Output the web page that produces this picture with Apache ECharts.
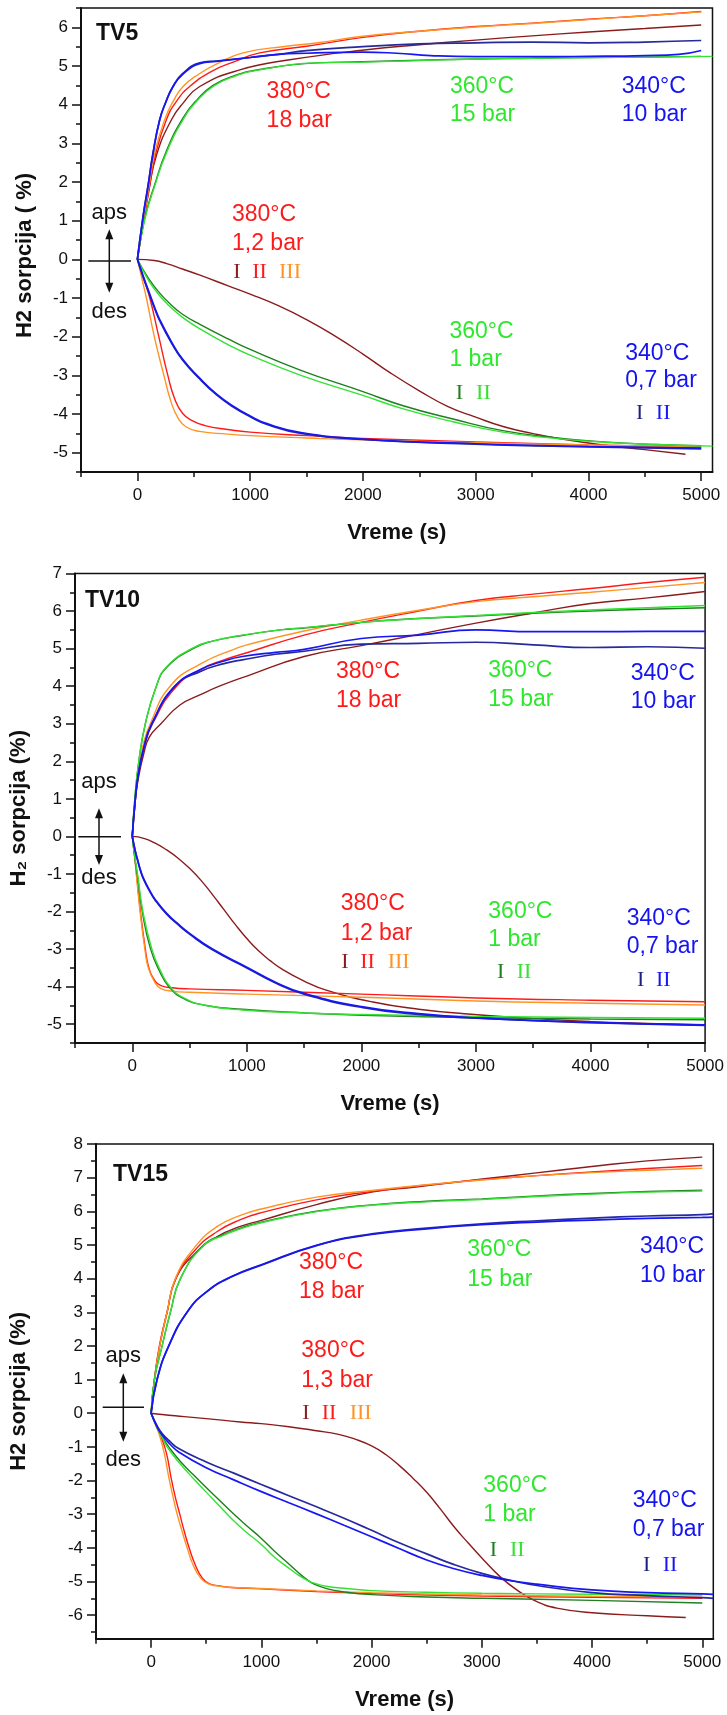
<!DOCTYPE html>
<html><head><meta charset="utf-8">
<script src="https://cdn.jsdelivr.net/npm/echarts@6/dist/echarts.min.js"></script>
<style>html,body{margin:0;padding:0;background:#fff}#c{width:727px;height:1715px}</style>
</head><body><div id="c"></div>
<script>
// ---------------- tick labels ----------------
const xMajorTicks = [0, 1000, 2000, 3000, 4000, 5000];
const xMinorTicks = [-500, 500, 1500, 2500, 3500, 4500];
const yMajorTicksTV5 = [-5, -4, -3, -2, -1, 0, 1, 2, 3, 4, 5, 6];
const yMinorTicksTV5 = [-5.5, -4.5, -3.5, -2.5, -1.5, -0.5, 0.5, 1.5, 2.5, 3.5, 4.5, 5.5, 6.5];
const yMajorTicksTV10 = [-5, -4, -3, -2, -1, 0, 1, 2, 3, 4, 5, 6, 7];
const yMinorTicksTV10 = [-5.5, -4.5, -3.5, -2.5, -1.5, -0.5, 0.5, 1.5, 2.5, 3.5, 4.5, 5.5, 6.5];
const yMajorTicksTV15 = [-6, -5, -4, -3, -2, -1, 0, 1, 2, 3, 4, 5, 6, 7, 8];
const yMinorTicksTV15 = [-6.5, -5.5, -4.5, -3.5, -2.5, -1.5, -0.5, 0.5, 1.5, 2.5, 3.5, 4.5, 5.5, 6.5, 7.5];

// ---------------- categories ----------------
const panelNames = ['TV5', 'TV10', 'TV15'];
const runNames = ['380 I', '380 II', '380 III', '360 I', '360 II', '340 I', '340 II'];

// ---------------- TV5 : absorption (aps) [time s, sorption %] ----------------
const tv5_aps_380_I   = [[0,0],[50,0.9],[100,1.75],[170,2.7],[302,3.61],[405,4.04],[553,4.47],[908,4.9],[1351,5.16],[2032,5.42],[2500,5.55],[3000,5.67],[3500,5.78],[4000,5.88],[4500,5.97],[5000,6.06]];
const tv5_aps_380_II  = [[0,0],[50,0.9],[100,1.75],[160,2.7],[257,3.61],[350,4.1],[464,4.47],[650,4.85],[850,5.1],[1085,5.34],[1500,5.51],[2000,5.74],[2500,5.9],[3000,6.02],[3500,6.11],[4000,6.21],[4500,6.3],[5000,6.41]];
const tv5_aps_380_III = [[0,0],[50,0.95],[100,1.85],[153,2.75],[242,3.61],[320,4.1],[405,4.47],[550,4.8],[700,5.05],[937,5.34],[1322,5.51],[1600,5.6],[2000,5.77],[2500,5.9],[3000,6.01],[3500,6.1],[4000,6.2],[4500,6.3],[5000,6.4]];
const tv5_aps_360_I   = [[0,0],[65,1.06],[153,1.93],[257,2.8],[405,3.66],[530,4.13],[671,4.5],[850,4.74],[1085,4.91],[1588,5.08],[2000,5.11],[2500,5.15],[3000,5.18],[3500,5.2],[4000,5.22],[4500,5.23],[5000,5.25]];
const tv5_aps_360_II  = [[0,0],[65,1.03],[153,1.89],[257,2.75],[405,3.61],[530,4.1],[671,4.47],[850,4.72],[1085,4.9],[1588,5.08],[2000,5.1],[2500,5.14],[3000,5.18],[3500,5.2],[4000,5.22],[4500,5.23],[5100,5.25]];
const tv5_aps_340_I   = [[0,0],[50,1.1],[94,1.89],[139,2.75],[198,3.61],[250,4.05],[316,4.47],[400,4.8],[553,5.08],[700,5.13],[1000,5.22],[1250,5.3],[1500,5.4],[2000,5.5],[2500,5.57],[3000,5.6],[3500,5.62],[4000,5.6],[4500,5.62],[5000,5.66]];
const tv5_aps_340_II  = [[0,0],[50,1.1],[94,1.89],[139,2.75],[198,3.61],[250,4.05],[316,4.47],[400,4.78],[553,5.06],[700,5.12],[1000,5.22],[1250,5.3],[1500,5.33],[2000,5.36],[2300,5.33],[2600,5.27],[3000,5.24],[3500,5.24],[4000,5.25],[4500,5.27],[4800,5.3],[5000,5.4]];
// ---------------- TV5 : desorption (des) ----------------
const tv5_des_380_I   = [[0,0],[150,-0.03],[260,-0.11],[400,-0.25],[555,-0.41],[800,-0.68],[1000,-0.9],[1250,-1.2],[1500,-1.56],[1750,-1.98],[2000,-2.45],[2250,-2.95],[2500,-3.4],[2750,-3.8],[3000,-4.08],[3250,-4.33],[3500,-4.5],[3750,-4.64],[4130,-4.8],[4500,-4.92],[4860,-5.04]];
const tv5_des_380_II  = [[0,0],[50,-0.45],[110,-1.0],[190,-2.0],[270,-3.0],[330,-3.6],[400,-3.98],[485,-4.17],[600,-4.3],[800,-4.4],[1000,-4.47],[1500,-4.56],[2000,-4.63],[3000,-4.72],[4000,-4.8],[5000,-4.86]];
const tv5_des_380_III = [[0,0],[40,-0.5],[80,-1.0],[150,-2.0],[235,-3.0],[300,-3.7],[360,-4.1],[430,-4.33],[550,-4.45],[800,-4.52],[1000,-4.56],[1500,-4.62],[2000,-4.67],[3000,-4.74],[4000,-4.8],[5000,-4.85]];
const tv5_des_360_I   = [[0,0],[100,-0.5],[200,-0.88],[300,-1.18],[400,-1.42],[555,-1.68],[800,-2.05],[1000,-2.33],[1450,-2.87],[2000,-3.42],[2350,-3.78],[2800,-4.13],[3240,-4.43],[3700,-4.61],[4130,-4.72],[4600,-4.79],[5000,-4.82]];
const tv5_des_360_II  = [[0,0],[100,-0.55],[200,-0.95],[300,-1.25],[400,-1.5],[555,-1.8],[800,-2.2],[1000,-2.48],[1450,-3.0],[2000,-3.52],[2350,-3.86],[2800,-4.2],[3240,-4.47],[3700,-4.63],[4130,-4.73],[4600,-4.79],[5100,-4.83]];
const tv5_des_340_I   = [[0,0],[50,-0.45],[100,-0.85],[150,-1.25],[200,-1.6],[300,-2.15],[400,-2.6],[555,-3.1],[700,-3.5],[850,-3.82],[1000,-4.07],[1150,-4.27],[1450,-4.5],[2000,-4.66],[3000,-4.78],[4000,-4.85],[5000,-4.9]];
const tv5_des_340_II  = [[0,0],[50,-0.42],[100,-0.82],[150,-1.22],[200,-1.57],[300,-2.12],[400,-2.58],[555,-3.08],[700,-3.48],[850,-3.8],[1000,-4.05],[1150,-4.25],[1450,-4.48],[2000,-4.65],[3000,-4.77],[4000,-4.84],[5000,-4.88]];

// ---------------- TV10 : absorption ----------------
const tv10_aps_380_I   = [[0,0],[25,0.9],[50,1.5],[100,2.2],[150,2.65],[250,3.0],[416,3.5],[600,3.78],[760,4.0],[1000,4.27],[1500,4.79],[2000,5.08],[2500,5.38],[3000,5.68],[3500,5.95],[4000,6.2],[4500,6.35],[5000,6.52]];
const tv10_aps_380_II  = [[0,0],[25,0.95],[50,1.6],[100,2.35],[177,3.0],[387,4.0],[600,4.45],[800,4.7],[1000,4.89],[1500,5.36],[2000,5.7],[2500,6.0],[3000,6.28],[3500,6.45],[4000,6.6],[4500,6.76],[5000,6.9]];
const tv10_aps_380_III = [[0,0],[25,1.0],[50,1.7],[100,2.5],[157,3.0],[330,4.0],[600,4.6],[903,5.0],[1000,5.1],[1500,5.47],[2000,5.76],[2500,6.02],[3000,6.25],[3500,6.38],[4000,6.5],[4500,6.63],[5000,6.76]];
const tv10_aps_360_I   = [[0,0],[22,1.0],[57,2.0],[114,3.0],[210,4.0],[300,4.5],[530,5.0],[700,5.2],[960,5.35],[1290,5.5],[1500,5.55],[2000,5.7],[2500,5.8],[3000,5.87],[3500,5.94],[4000,6.0],[4500,6.05],[5000,6.09]];
const tv10_aps_360_II  = [[0,0],[22,1.0],[57,2.0],[114,3.0],[210,4.0],[300,4.52],[530,5.02],[700,5.2],[960,5.36],[1290,5.5],[1500,5.56],[2000,5.7],[2500,5.8],[3000,5.88],[3500,5.96],[4000,6.03],[4500,6.09],[5000,6.15]];
const tv10_aps_340_I   = [[0,0],[25,0.95],[50,1.6],[100,2.35],[171,3.0],[372,4.0],[600,4.4],[800,4.6],[960,4.7],[1250,4.85],[1500,4.93],[2000,5.12],[2500,5.14],[3000,5.17],[3500,5.1],[4000,5.03],[4500,5.05],[5000,5.01]];
const tv10_aps_340_II  = [[0,0],[25,0.95],[50,1.6],[100,2.35],[171,3.0],[372,4.0],[600,4.45],[800,4.67],[960,4.79],[1250,4.9],[1500,4.98],[2000,5.27],[2500,5.36],[3000,5.5],[3500,5.45],[4000,5.45],[4500,5.46],[5000,5.46]];
// ---------------- TV10 : desorption ----------------
const tv10_des_380_I   = [[0,0],[100,-0.05],[200,-0.18],[300,-0.36],[400,-0.58],[500,-0.85],[600,-1.17],[700,-1.55],[800,-1.95],[900,-2.35],[1000,-2.72],[1100,-3.04],[1200,-3.3],[1300,-3.52],[1500,-3.85],[1700,-4.1],[2100,-4.41],[2500,-4.6],[2900,-4.72],[3500,-4.85],[4000,-4.93],[4500,-4.98],[5000,-5.02]];
const tv10_des_380_II  = [[0,0],[20,-0.5],[37,-1.0],[71,-2.0],[114,-3.0],[145,-3.5],[200,-3.85],[250,-3.97],[350,-4.03],[500,-4.06],[1000,-4.1],[2000,-4.2],[3000,-4.3],[4000,-4.36],[5000,-4.4]];
const tv10_des_380_III = [[0,0],[20,-0.5],[35,-1.0],[68,-2.0],[110,-3.0],[140,-3.5],[200,-3.9],[250,-4.05],[350,-4.12],[500,-4.15],[1000,-4.2],[2000,-4.28],[3000,-4.38],[4000,-4.44],[5000,-4.49]];
const tv10_des_360_I   = [[0,0],[25,-0.65],[45,-1.05],[90,-2.05],[160,-3.0],[240,-3.6],[320,-4.0],[450,-4.32],[645,-4.5],[960,-4.6],[1500,-4.7],[2000,-4.76],[3000,-4.82],[4000,-4.86],[5000,-4.88]];
const tv10_des_360_II  = [[0,0],[25,-0.6],[46,-1.0],[93,-2.0],[171,-3.0],[250,-3.6],[330,-4.0],[450,-4.3],[645,-4.5],[960,-4.62],[1500,-4.7],[2000,-4.74],[3000,-4.79],[4000,-4.82],[5000,-4.84]];
const tv10_des_340_I   = [[0,0],[25,-0.38],[50,-0.68],[75,-0.95],[100,-1.15],[150,-1.45],[200,-1.7],[300,-2.07],[400,-2.35],[500,-2.6],[700,-3.02],[1000,-3.5],[1250,-3.9],[1500,-4.2],[2000,-4.55],[2500,-4.74],[3000,-4.84],[4000,-4.96],[5000,-5.03]];
const tv10_des_340_II  = [[0,0],[25,-0.37],[50,-0.66],[75,-0.93],[100,-1.13],[150,-1.43],[200,-1.68],[300,-2.05],[400,-2.33],[500,-2.58],[700,-3.0],[1000,-3.48],[1250,-3.88],[1500,-4.18],[2000,-4.53],[2500,-4.72],[3000,-4.83],[4000,-4.95],[5000,-5.02]];

// ---------------- TV15 : absorption ----------------
const tv15_aps_380_I   = [[0,0],[30,1.0],[78,2.0],[145,3.0],[225,4.0],[400,4.75],[600,5.25],[810,5.55],[1000,5.73],[1500,6.2],[2000,6.57],[2400,6.72],[2800,6.88],[3250,7.05],[3700,7.22],[4100,7.37],[4500,7.5],[5000,7.61]];
const tv15_aps_380_II  = [[0,0],[30,1.0],[75,2.0],[145,3.0],[222,4.0],[400,4.85],[600,5.4],[810,5.75],[1000,5.96],[1500,6.34],[2000,6.59],[2500,6.78],[3000,6.94],[3500,7.06],[4000,7.17],[4500,7.27],[5000,7.36]];
const tv15_aps_380_III = [[0,0],[30,1.0],[78,2.0],[145,3.0],[220,4.0],[400,4.95],[600,5.55],[810,5.88],[1000,6.07],[1500,6.42],[2000,6.62],[2500,6.79],[3000,6.93],[3500,7.06],[4000,7.15],[4500,7.22],[5000,7.28]];
const tv15_aps_360_I   = [[0,0],[30,1.0],[100,2.0],[175,3.0],[266,4.0],[477,5.0],[650,5.3],[810,5.5],[1000,5.68],[1500,6.0],[2000,6.19],[2500,6.3],[3000,6.37],[3500,6.46],[4000,6.53],[4500,6.59],[5000,6.63]];
const tv15_aps_360_II  = [[0,0],[30,1.0],[100,2.0],[175,3.0],[266,4.0],[477,4.98],[650,5.28],[810,5.48],[1000,5.66],[1500,5.99],[2000,6.18],[2500,6.28],[3000,6.35],[3500,6.44],[4000,6.51],[4500,6.57],[5000,6.6]];
const tv15_aps_340_I   = [[0,0],[54,1.0],[160,2.0],[326,3.0],[500,3.6],[735,4.07],[1000,4.41],[1500,4.99],[2000,5.33],[2500,5.5],[3000,5.63],[3500,5.72],[4000,5.8],[4500,5.86],[5000,5.9],[5100,5.93]];
const tv15_aps_340_II  = [[0,0],[54,1.0],[160,2.0],[326,3.0],[500,3.6],[735,4.06],[1000,4.4],[1500,4.98],[2000,5.31],[2500,5.48],[3000,5.6],[3500,5.68],[4000,5.74],[4500,5.79],[5000,5.82],[5100,5.83]];
// ---------------- TV15 : desorption ----------------
const tv15_des_380_I   = [[0,0],[100,-0.04],[300,-0.1],[500,-0.16],[810,-0.26],[1000,-0.31],[1250,-0.4],[1500,-0.52],[1700,-0.63],[1850,-0.77],[2000,-0.97],[2125,-1.22],[2250,-1.55],[2375,-1.93],[2500,-2.35],[2625,-2.85],[2750,-3.38],[2875,-3.85],[3000,-4.3],[3170,-4.87],[3340,-5.3],[3500,-5.6],[3680,-5.79],[4000,-5.93],[4500,-6.02],[4850,-6.07]];
const tv15_des_380_II  = [[0,0],[40,-0.3],[90,-0.7],[140,-1.2],[180,-1.9],[220,-2.5],[260,-3.0],[300,-3.5],[345,-4.0],[400,-4.5],[465,-4.9],[530,-5.07],[620,-5.13],[700,-5.17],[1000,-5.22],[1500,-5.3],[2000,-5.36],[3000,-5.43],[4000,-5.47],[5000,-5.5]];
const tv15_des_380_III = [[0,0],[40,-0.35],[80,-0.7],[120,-1.2],[160,-1.9],[200,-2.5],[236,-3.0],[280,-3.5],[327,-4.0],[380,-4.5],[450,-4.9],[520,-5.07],[600,-5.13],[700,-5.17],[1000,-5.21],[1500,-5.28],[2000,-5.33],[3000,-5.4],[4000,-5.44],[5000,-5.47]];
const tv15_des_360_I   = [[0,0],[50,-0.38],[100,-0.7],[160,-1.0],[270,-1.45],[400,-1.88],[560,-2.4],[735,-2.95],[870,-3.35],[1000,-3.72],[1120,-4.1],[1240,-4.45],[1340,-4.75],[1408,-4.93],[1480,-5.08],[1600,-5.22],[1750,-5.31],[2000,-5.39],[2500,-5.46],[3000,-5.5],[4000,-5.56],[5000,-5.64]];
const tv15_des_360_II  = [[0,0],[50,-0.4],[100,-0.72],[145,-1.0],[250,-1.45],[400,-2.0],[560,-2.55],[735,-3.15],[870,-3.55],[1000,-3.9],[1120,-4.28],[1240,-4.58],[1340,-4.82],[1408,-4.95],[1480,-5.05],[1600,-5.15],[1750,-5.2],[2000,-5.27],[2500,-5.32],[3000,-5.35],[4000,-5.38],[5000,-5.4]];
const tv15_des_340_I   = [[0,0],[50,-0.35],[100,-0.6],[175,-0.85],[250,-1.05],[500,-1.45],[750,-1.78],[1000,-2.12],[1250,-2.45],[1500,-2.78],[1750,-3.12],[2000,-3.48],[2250,-3.85],[2500,-4.18],[2750,-4.5],[3000,-4.76],[3250,-4.96],[3500,-5.12],[4000,-5.33],[4500,-5.42],[5000,-5.48],[5100,-5.5]];
const tv15_des_340_II  = [[0,0],[50,-0.38],[100,-0.65],[175,-0.93],[250,-1.15],[500,-1.62],[750,-1.98],[1000,-2.33],[1250,-2.66],[1500,-2.99],[1750,-3.33],[2000,-3.67],[2250,-4.02],[2500,-4.36],[2750,-4.62],[3000,-4.82],[3250,-4.97],[3500,-5.08],[4000,-5.25],[4500,-5.33],[5000,-5.37],[5100,-5.38]];

// ---------------- styling ----------------
const FONT = '"Liberation Sans", Arial, Helvetica, sans-serif';
const SERIF = '"Liberation Serif", "Times New Roman", serif';
const C = { brown:'#8b1c1c', red:'#ff1a1a', orange:'#ff9424', dgreen:'#1f7f1f', lgreen:'#33e233', navy:'#262a9c', blue:'#1717f5',
            txtRed:'#ff1a1a', txtGreen:'#2ee82e', txtBlue:'#1414f0', navyTxt:'#1a1f80' };
const runColors = [C.brown, C.red, C.orange, C.dgreen, C.lgreen, C.navy, C.blue];

const panelData = [
  { aps:[tv5_aps_380_I,tv5_aps_380_II,tv5_aps_380_III,tv5_aps_360_I,tv5_aps_360_II,tv5_aps_340_I,tv5_aps_340_II],
    des:[tv5_des_380_I,tv5_des_380_II,tv5_des_380_III,tv5_des_360_I,tv5_des_360_II,tv5_des_340_I,tv5_des_340_II] },
  { aps:[tv10_aps_380_I,tv10_aps_380_II,tv10_aps_380_III,tv10_aps_360_I,tv10_aps_360_II,tv10_aps_340_I,tv10_aps_340_II],
    des:[tv10_des_380_I,tv10_des_380_II,tv10_des_380_III,tv10_des_360_I,tv10_des_360_II,tv10_des_340_I,tv10_des_340_II] },
  { aps:[tv15_aps_380_I,tv15_aps_380_II,tv15_aps_380_III,tv15_aps_360_I,tv15_aps_360_II,tv15_aps_340_I,tv15_aps_340_II],
    des:[tv15_des_380_I,tv15_des_380_II,tv15_des_380_III,tv15_des_360_I,tv15_des_360_II,tv15_des_340_I,tv15_des_340_II] }
];

// layout (pixels)
const panels = [
  { left:81, top:8,    width:631.5, height:464,   xMax:5100, yMin:-5.5, yMax:6.5, yMajor:yMajorTicksTV5,  yMinor:yMinorTicksTV5,  yName:'H2 sorpcija ( %)', yGap:45, yPad:[0,31,0,0] },
  { left:70.5, top:573.5, width:638.8, height:469.5, xMax:5000, yMin:-5.5, yMax:7,   yMajor:yMajorTicksTV10, yMinor:yMinorTicksTV10, yName:'H\u2082 sorpcija (%)', yGap:45, yPad:[0,0,0,0] },
  { left:95.7, top:1144, width:617.6, height:494.7, xMax:5100, yMin:-6.7, yMax:8,   yMajor:yMajorTicksTV15, yMinor:yMinorTicksTV15, yName:'H2 sorpcija (%)', yGap:66, yPad:[0,0,0,0] }
];

const grid = [], xAxis = [], yAxis = [], series = [], title = [];
const tickStyle = { color:'#111', width:1.5 };
const plain = v => String(v);
panels.forEach((p, i) => {
  grid.push({ left:p.left, top:p.top, width:p.width, height:p.height, show:true, borderColor:'#111', borderWidth:1.5, containLabel:false });
  xAxis.push({ gridIndex:i, type:'value', position:'bottom', min:-500, max:p.xMax,
    name:'Vreme (s)', nameLocation:'middle', nameGap:50,
    nameTextStyle:{ fontFamily:FONT, fontSize:22, fontWeight:'bold', color:'#111' },
    axisLine:{ show:true, onZero:false, lineStyle:{ color:'#111', width:2 } },
    axisTick:{ show:true, inside:false, length:9, lineStyle:tickStyle, customValues:xMajorTicks },
    axisLabel:{ show:true, customValues:xMajorTicks, formatter:plain, margin:15, fontFamily:FONT, fontSize:17, color:'#111' },
    splitLine:{ show:false } });
  xAxis.push({ gridIndex:i, type:'value', position:'bottom', min:-500, max:p.xMax,
    axisLine:{ show:false, onZero:false },
    axisTick:{ show:true, inside:false, length:5, lineStyle:tickStyle, customValues:xMinorTicks },
    axisLabel:{ show:false }, splitLine:{ show:false } });
  yAxis.push({ gridIndex:i, type:'value', position:'left', min:p.yMin, max:p.yMax,
    name:p.yName, nameLocation:'middle', nameGap:p.yGap,
    nameTextStyle:{ fontFamily:FONT, fontSize:22, fontWeight:'bold', color:'#111', padding:p.yPad },
    axisLine:{ show:true, onZero:false, lineStyle:{ color:'#111', width:2 } },
    axisTick:{ show:true, inside:false, length:9, lineStyle:tickStyle, customValues:p.yMajor },
    axisLabel:{ show:true, customValues:p.yMajor, formatter:plain, margin:13, fontFamily:FONT, fontSize:17, color:'#111' },
    splitLine:{ show:false } });
  yAxis.push({ gridIndex:i, type:'value', position:'left', min:p.yMin, max:p.yMax,
    axisLine:{ show:false, onZero:false },
    axisTick:{ show:true, inside:false, length:5, lineStyle:tickStyle, customValues:p.yMinor },
    axisLabel:{ show:false }, splitLine:{ show:false } });

  ['des', 'aps'].forEach(kind => {
    panelData[i][kind].forEach((d, k) => {
      series.push({ type:'line', name: panelNames[i] + ' ' + kind + ' ' + runNames[k],
        xAxisIndex:2*i, yAxisIndex:2*i, data:d, showSymbol:false, symbol:'none',
        smooth:0.5, clip:true,
        lineStyle:{ color:runColors[k], width:(k>=5 ? 1.7 : 1.4) }, z: 2 + k, silent:true });
    });
  });
});

// panel titles
const titlePos = [[96, 22], [85, 589], [113, 1163.5]];
panelNames.forEach((n, i) => title.push({ text:n, left:titlePos[i][0], top:titlePos[i][1], padding:0,
  textStyle:{ fontFamily:FONT, fontSize:23, fontWeight:'bold', color:'#111' } }));

// ---------------- annotations ----------------
const ANN = '23px ' + FONT;
const ROM = '22px ' + SERIF;
function T(x, y, text, fill, font, align) {
  return { type:'text', x:x, y:y, silent:true, z:50,
    style:{ text:text, fill:fill, font:font || ANN, align:align || 'left', verticalAlign:'middle' } };
}
function labelBlock(x, y1, y2, l1, l2, col) { return [T(x, y1, l1, col), T(x, y2, l2, col)]; }
function romans(y, items) { return items.map(it => T(it[0], y, it[1], it[2], ROM, 'center')); }
function apsDes(cx, lineY, x1, x2, yTop, yBot, apsY, desY) {
  const aw = 4, ah = 10;
  return [
    T(cx, apsY, 'aps', '#111', '22px ' + FONT, 'center'),
    T(cx, desY, 'des', '#111', '22px ' + FONT, 'center'),
    { type:'line', silent:true, z:50, shape:{ x1:x1, y1:lineY, x2:x2, y2:lineY }, style:{ stroke:'#111', lineWidth:1.5 } },
    { type:'line', silent:true, z:50, shape:{ x1:cx, y1:yTop + ah - 1, x2:cx, y2:yBot - ah + 1 }, style:{ stroke:'#111', lineWidth:1.5 } },
    { type:'polygon', silent:true, z:50, shape:{ points:[[cx, yTop], [cx - aw, yTop + ah], [cx + aw, yTop + ah]] }, style:{ fill:'#111' } },
    { type:'polygon', silent:true, z:50, shape:{ points:[[cx, yBot], [cx - aw, yBot - ah], [cx + aw, yBot - ah]] }, style:{ fill:'#111' } }
  ];
}

const graphic = [].concat(
  // TV5
  labelBlock(266.6, 92, 120.5, '380°C', '18 bar', C.txtRed),
  labelBlock(450, 86.7, 115, '360°C', '15 bar', C.txtGreen),
  labelBlock(621.7, 86.7, 115, '340°C', '10 bar', C.txtBlue),
  labelBlock(232, 215, 243.5, '380°C', '1,2 bar', C.txtRed),
  romans(272.5, [[237, 'I', C.brown], [259.5, 'II', C.red], [290, 'III', C.orange]]),
  labelBlock(449.4, 331.7, 360, '360°C', '1 bar', C.txtGreen),
  romans(393, [[459.5, 'I', C.dgreen], [483.4, 'II', C.lgreen]]),
  labelBlock(625.2, 353.3, 380.5, '340°C', '0,7 bar', C.txtBlue),
  romans(413.3, [[639.7, 'I', C.navyTxt], [663.2, 'II', C.blue]]),
  apsDes(109.3, 261, 88.3, 131, 229.3, 292.7, 213.3, 311.7),
  // TV10
  labelBlock(336, 671.5, 701, '380°C', '18 bar', C.txtRed),
  labelBlock(488.3, 671, 699.5, '360°C', '15 bar', C.txtGreen),
  labelBlock(630.7, 673.3, 701.7, '340°C', '10 bar', C.txtBlue),
  labelBlock(340.7, 904, 933.3, '380°C', '1,2 bar', C.txtRed),
  romans(962, [[345, 'I', C.brown], [367.6, 'II', C.red], [398.7, 'III', C.orange]]),
  labelBlock(488.3, 911.7, 940, '360°C', '1 bar', C.txtGreen),
  romans(972.7, [[500.7, 'I', C.dgreen], [524, 'II', C.lgreen]]),
  labelBlock(626.7, 919, 946.7, '340°C', '0,7 bar', C.txtBlue),
  romans(980, [[640.7, 'I', C.navyTxt], [663.3, 'II', C.blue]]),
  apsDes(99, 836.7, 78.3, 121, 808.3, 865, 781.7, 878.3),
  // TV15
  labelBlock(299, 1262.4, 1292, '380°C', '18 bar', C.txtRed),
  labelBlock(467.3, 1249.7, 1279.5, '360°C', '15 bar', C.txtGreen),
  labelBlock(640, 1246.7, 1275.7, '340°C', '10 bar', C.txtBlue),
  labelBlock(301.3, 1351, 1381, '380°C', '1,3 bar', C.txtRed),
  romans(1413, [[306, 'I', C.brown], [329, 'II', C.red], [360.7, 'III', C.orange]]),
  labelBlock(483.3, 1485.7, 1515, '360°C', '1 bar', C.txtGreen),
  romans(1550, [[493.3, 'I', C.dgreen], [517.3, 'II', C.lgreen]]),
  labelBlock(632.7, 1501, 1530, '340°C', '0,7 bar', C.txtBlue),
  romans(1565, [[646.7, 'I', C.navyTxt], [670, 'II', C.blue]]),
  apsDes(123.3, 1407.3, 102.7, 144, 1373.3, 1441.7, 1356, 1460)
);

const chart = echarts.init(document.getElementById('c'), null, { renderer:'canvas', width:727, height:1715 });
chart.setOption({ animation:false, backgroundColor:'#fff', title, grid, xAxis, yAxis, series, graphic });
</script></body></html>
